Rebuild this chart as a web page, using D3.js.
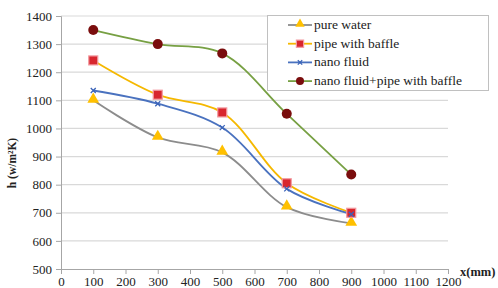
<!DOCTYPE html>
<html>
<head>
<meta charset="utf-8">
<script src="https://cdn.jsdelivr.net/npm/d3@7"></script>
<style>
  body { margin: 0; background: #fff; }
  svg text { font-family: "Liberation Serif", "Times New Roman", serif; fill: #222; }
</style>
</head>
<body>
<div id="chart"></div>
<script>
// chart data
var xValues = [100, 300, 500, 700, 900];
var pureWater = [1100, 968, 915, 720, 662];
var pipeBaffle = [1242, 1120, 1057, 805, 700];
var nanoFluid = [1135, 1088, 1003, 785, 695];
var nanoPipe = [1350, 1300, 1267, 1052, 836];
var seriesNames = ["pure water", "pipe with baffle", "nano fluid", "nano fluid+pipe with baffle"];
var xTicks = [0, 100, 200, 300, 400, 500, 600, 700, 800, 900, 1000, 1100, 1200];
var yTicks = [500, 600, 700, 800, 900, 1000, 1100, 1200, 1300, 1400];

var width = 498, height = 288;
var x = d3.scaleLinear().domain([0, 1200]).range([61, 448]);
var y = d3.scaleLinear().domain([500, 1400]).range([269, 16]);

var svg = d3.select("#chart").append("svg")
  .attr("width", width).attr("height", height)
  .attr("font-family", "Liberation Serif, serif");

// gridlines
svg.append("g").selectAll("line")
  .data(yTicks.slice(1))
  .enter().append("line")
  .attr("x1", x(0)).attr("x2", x(1200))
  .attr("y1", function(d) { return y(d); })
  .attr("y2", function(d) { return y(d); })
  .attr("stroke", "#d9d9d9").attr("stroke-width", 1.2);

// axes
var yAxis = svg.append("g")
  .attr("transform", "translate(" + x(0) + ",0)")
  .call(d3.axisLeft(y).tickValues(yTicks).tickFormat(d3.format("d")).tickSize(5).tickPadding(4));
var xAxis = svg.append("g")
  .attr("transform", "translate(0," + y(500) + ")")
  .call(d3.axisBottom(x).tickValues(xTicks).tickFormat(d3.format("d")).tickSize(5).tickPadding(3));
[yAxis, xAxis].forEach(function(a) {
  a.attr("font-family", null).attr("font-size", null);
  a.selectAll("path, line").attr("stroke", "#a6a6a6");
  a.selectAll("text").style("font-size", "13px").attr("fill", "#222");
});

// axis titles
svg.append("text")
  .attr("transform", "translate(16,163) rotate(-90)")
  .attr("text-anchor", "middle")
  .style("font-size", "11.5px").style("font-weight", "bold")
  .text("h (w/m²K)");
svg.append("text")
  .attr("x", 460).attr("y", 276)
  .style("font-size", "12.5px").style("font-weight", "bold")
  .text("x(mm)");

var line = d3.line()
  .x(function(d, i) { return x(xValues[i]); })
  .y(function(d) { return y(d); })
  .curve(d3.curveCatmullRom.alpha(0.5));

var styles = [
  { data: pureWater, color: "#8c8c8c", marker: "triangle" },
  { data: pipeBaffle, color: "#f5b800", marker: "square" },
  { data: nanoFluid, color: "#4a72bf", marker: "cross" },
  { data: nanoPipe, color: "#77a043", marker: "circle" }
];

function drawMarker(g, type, cx, cy, small) {
  var k = small ? 0.8 : 1;
  if (type === "triangle") {
    g.append("path")
      .attr("d", d3.symbol().type(d3.symbolTriangle).size(60 * k * k)())
      .attr("transform", "translate(" + cx + "," + (cy - 1) + ")")
      .attr("fill", "#ffc000");
  } else if (type === "square") {
    g.append("rect")
      .attr("x", cx - 4.5 * k).attr("y", cy - 4.5 * k)
      .attr("width", 9 * k).attr("height", 9 * k)
      .attr("fill", "#d8262e").attr("stroke", "#f29aa0").attr("stroke-width", 1.2);
  } else if (type === "cross") {
    g.append("path")
      .attr("d", d3.symbol().type(d3.symbolX).size(18 * k)())
      .attr("transform", "translate(" + cx + "," + cy + ")")
      .attr("stroke", "#3a63b8").attr("stroke-width", 1.3).attr("fill", "none");
  } else {
    g.append("circle")
      .attr("cx", cx).attr("cy", cy).attr("r", 5 * k)
      .attr("fill", "#7a0d0d");
  }
}

styles.forEach(function(s) {
  svg.append("path")
    .datum(s.data)
    .attr("d", line)
    .attr("fill", "none")
    .attr("stroke", s.color)
    .attr("stroke-width", 1.8);
});
styles.forEach(function(s) {
  var g = svg.append("g");
  s.data.forEach(function(d, i) {
    drawMarker(g, s.marker, x(xValues[i]), y(d), false);
  });
});

// legend
var legend = svg.append("g");
legend.append("rect")
  .attr("x", 267.5).attr("y", 15.5).attr("width", 221).attr("height", 75)
  .attr("fill", "#fff").attr("stroke", "#c0c0c0");
seriesNames.forEach(function(name, i) {
  var ly = 25 + i * 18.7;
  legend.append("line")
    .attr("x1", 288).attr("x2", 312).attr("y1", ly).attr("y2", ly)
    .attr("stroke", styles[i].color).attr("stroke-width", 1.8);
  drawMarker(legend, styles[i].marker, 300, ly, true);
  legend.append("text")
    .attr("x", 314).attr("y", ly + 4)
    .style("font-size", "13.5px")
    .text(name);
});
</script>
</body>
</html>
